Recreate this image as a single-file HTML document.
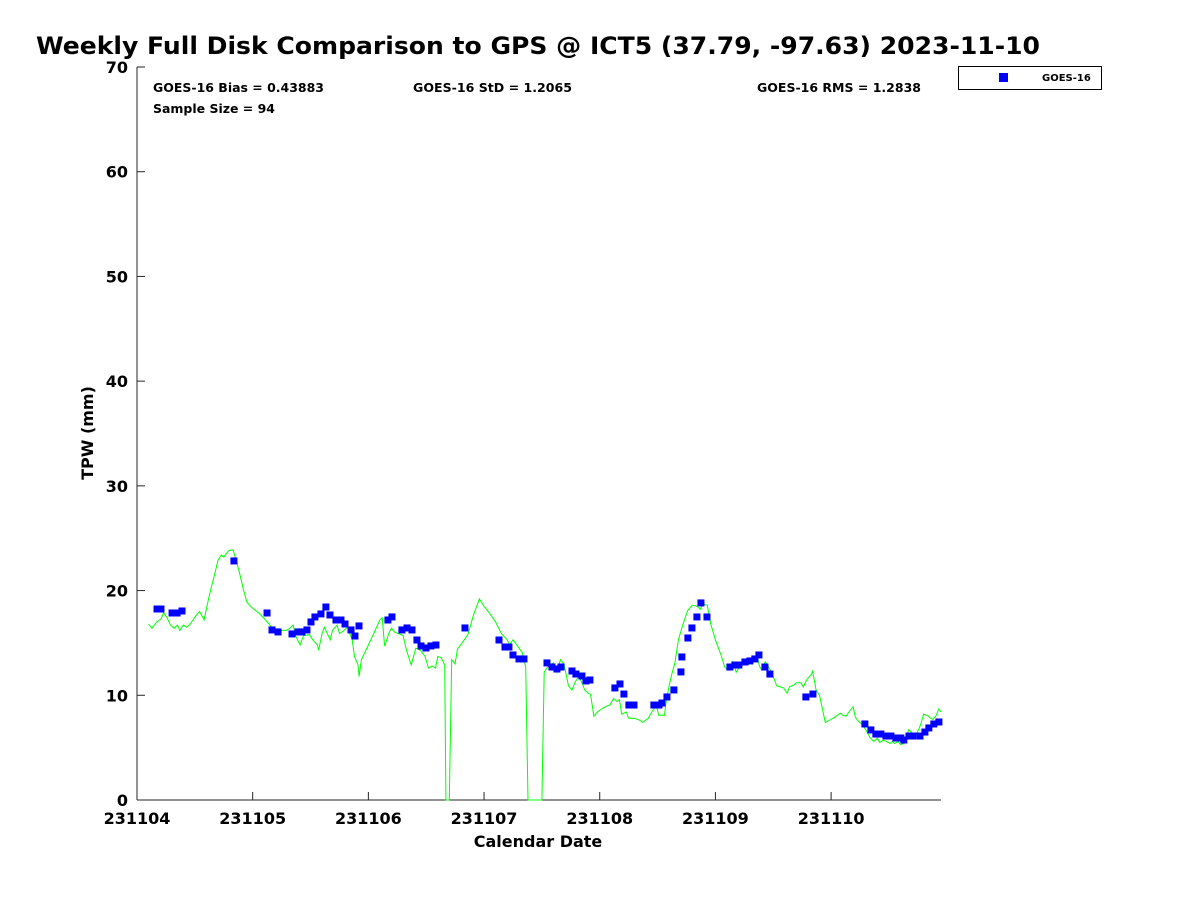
<!DOCTYPE html>
<html><head><meta charset="utf-8"><style>
body{margin:0;background:#fff;}
svg text{font-family:"DejaVu Sans","Liberation Sans",sans-serif;font-weight:bold;fill:#000;}
</style></head><body>
<svg id="chart" width="1200" height="900" xmlns="http://www.w3.org/2000/svg">
<rect width="1200" height="900" fill="#fff"/>
<text x="36" y="54" font-size="24" textLength="1004" lengthAdjust="spacingAndGlyphs">Weekly Full Disk Comparison to GPS @ ICT5 (37.79, -97.63) 2023-11-10</text>
<g id="plot"></g>
<text x="153" y="92" font-size="12" textLength="171" lengthAdjust="spacingAndGlyphs">GOES-16 Bias = 0.43883</text>
<text x="153" y="113" font-size="12" textLength="122" lengthAdjust="spacingAndGlyphs">Sample Size = 94</text>
<text x="413" y="92" font-size="12" textLength="159" lengthAdjust="spacingAndGlyphs">GOES-16 StD = 1.2065</text>
<text x="757" y="92" font-size="12" textLength="164" lengthAdjust="spacingAndGlyphs">GOES-16 RMS = 1.2838</text>
<g>
<rect x="958.5" y="66.5" width="143" height="23" fill="#fff" stroke="#000" stroke-width="1"/>
<rect x="999" y="73" width="9" height="9" fill="#0000ff"/>
<text x="1042" y="81" font-size="10">GOES-16</text>
</g>
<text x="538" y="847" font-size="16" text-anchor="middle">Calendar Date</text>
<text transform="translate(93,433) rotate(-90)" font-size="16" text-anchor="middle">TPW (mm)</text>
</svg>
<script>
const xTickLabels=["231104","231105","231106","231107","231108","231109","231110"];
const yTicks=[0,10,20,30,40,50,60,70];
const goesDays=[0.173,0.207,0.303,0.346,0.389,0.838,1.124,1.167,1.219,1.340,1.392,1.426,1.469,1.504,1.538,1.590,1.633,1.668,1.720,1.763,1.798,1.850,1.884,1.919,2.169,2.204,2.290,2.334,2.377,2.420,2.455,2.498,2.541,2.584,2.835,3.129,3.181,3.215,3.250,3.302,3.345,3.544,3.587,3.630,3.665,3.760,3.794,3.846,3.881,3.915,4.131,4.175,4.209,4.252,4.296,4.468,4.512,4.538,4.581,4.641,4.702,4.710,4.762,4.797,4.840,4.875,4.927,5.125,5.168,5.203,5.255,5.298,5.341,5.376,5.428,5.471,5.782,5.843,6.292,6.344,6.387,6.430,6.474,6.517,6.560,6.603,6.629,6.673,6.707,6.768,6.811,6.845,6.888,6.932];
const goesTPW=[18.24,18.24,17.86,17.86,18.05,22.83,17.86,16.24,16.05,15.86,16.05,16.05,16.24,17.0,17.48,17.77,18.43,17.67,17.19,17.19,16.81,16.24,15.66,16.62,17.19,17.48,16.24,16.43,16.24,15.28,14.71,14.52,14.71,14.80,16.43,15.28,14.61,14.61,13.85,13.47,13.47,13.09,12.70,12.51,12.70,12.32,12.03,11.84,11.37,11.46,10.70,11.08,10.12,9.07,9.07,9.07,9.07,9.26,9.84,10.51,12.23,13.66,15.47,16.43,17.48,18.82,17.48,12.70,12.89,12.89,13.18,13.28,13.47,13.85,12.70,12.03,9.84,10.12,7.26,6.69,6.30,6.30,6.11,6.11,5.92,5.92,5.73,6.11,6.11,6.11,6.49,6.88,7.26,7.45];
const gpsDays=[0.10,0.13,0.17,0.21,0.23,0.26,0.29,0.32,0.35,0.37,0.40,0.43,0.46,0.51,0.54,0.58,0.61,0.64,0.67,0.70,0.73,0.75,0.79,0.83,0.86,0.89,0.92,0.95,0.99,1.06,1.11,1.15,1.19,1.24,1.29,1.32,1.35,1.37,1.41,1.44,1.49,1.52,1.56,1.57,1.60,1.62,1.67,1.69,1.73,1.75,1.78,1.82,1.86,1.88,1.91,1.92,1.94,2.00,2.05,2.10,2.12,2.14,2.18,2.20,2.23,2.26,2.30,2.33,2.37,2.41,2.45,2.49,2.52,2.55,2.58,2.60,2.63,2.66,2.67,2.70,2.72,2.75,2.77,2.81,2.86,2.91,2.96,3.00,3.05,3.10,3.15,3.20,3.22,3.25,3.29,3.33,3.36,3.38,3.50,3.52,3.55,3.60,3.63,3.66,3.69,3.73,3.76,3.79,3.82,3.85,3.87,3.90,3.92,3.95,3.98,4.03,4.09,4.12,4.15,4.17,4.19,4.23,4.25,4.30,4.35,4.37,4.42,4.45,4.49,4.51,4.56,4.57,4.60,4.62,4.65,4.68,4.72,4.76,4.80,4.84,4.87,4.89,4.93,4.96,5.00,5.05,5.08,5.11,5.13,5.15,5.18,5.21,5.24,5.26,5.28,5.33,5.34,5.36,5.38,5.40,5.43,5.45,5.48,5.51,5.53,5.56,5.59,5.62,5.64,5.68,5.70,5.74,5.76,5.79,5.83,5.84,5.87,5.90,5.95,6.03,6.08,6.10,6.13,6.16,6.19,6.21,6.23,6.27,6.30,6.34,6.37,6.40,6.42,6.45,6.48,6.51,6.53,6.55,6.58,6.60,6.63,6.65,6.67,6.70,6.72,6.76,6.78,6.80,6.84,6.86,6.88,6.91,6.93,6.95];
const gpsTPW=[16.8,16.4,17.0,17.3,17.9,17.4,16.7,16.4,16.7,16.2,16.7,16.5,16.8,17.6,18.0,17.2,18.8,20.2,21.5,22.9,23.4,23.2,23.8,23.9,22.8,21.5,20.1,18.9,18.4,17.8,17.2,16.7,16.2,16.2,16.2,16.4,16.7,15.7,14.8,15.7,15.8,15.3,14.8,14.3,15.9,16.5,15.3,16.2,16.7,15.9,16.1,16.5,15.3,13.7,12.9,11.8,13.4,14.8,16.0,17.2,17.4,14.7,16.0,16.4,16.0,15.9,15.7,14.3,12.9,14.5,14.3,13.7,12.6,12.8,12.6,13.7,13.6,12.9,0,0,13.4,13.0,14.4,15.0,15.8,17.7,19.2,18.5,17.8,17.0,15.9,15.3,14.8,15.3,14.7,14.1,12.7,0,0,12.2,12.7,13.1,12.2,13.4,13.0,10.9,10.5,11.3,11.8,11.1,10.5,10.2,10.1,8.0,8.4,8.8,9.1,9.7,9.4,9.6,8.2,8.4,7.8,7.8,7.6,7.4,7.8,8.4,9.0,8.1,8.1,9.1,10.9,11.9,13.1,15.3,16.8,18.1,18.6,18.5,18.2,18.7,18.6,16.8,15.3,13.8,12.7,12.4,12.5,13.2,12.2,12.7,12.9,13.2,12.9,13.2,13.4,13.8,12.8,12.4,13.2,12.9,12.3,11.5,10.9,10.8,10.7,10.2,10.8,11.0,11.2,11.2,10.8,11.5,12.0,12.3,10.5,10.0,7.4,7.9,8.3,8.1,8.0,8.5,8.9,7.9,7.6,7.2,6.7,5.9,5.6,5.9,5.5,5.7,5.6,5.4,5.6,5.4,5.6,5.3,5.4,6.0,6.7,6.4,6.0,6.8,7.4,8.2,8.0,7.8,7.7,8.1,8.7,8.4];
const X0=137,X1=941,Y0=800,Y1=67,DMAX=6.95,VMAX=70;
const xs=d=>X0+d*(X1-X0)/DMAX;
const ys=v=>Y0-v*(Y0-Y1)/VMAX;
const NS="http://www.w3.org/2000/svg";
const plot=document.getElementById('plot');
function mk(tag,attrs){const e=document.createElementNS(NS,tag);for(const k in attrs)e.setAttribute(k,attrs[k]);plot.appendChild(e);return e;}
let ax=mk('line',{x1:X0,y1:Y0,x2:X1,y2:Y0,stroke:'#262626','stroke-width':1});


let ay=mk('line',{x1:X0,y1:Y0,x2:X0,y2:Y1,stroke:'#262626','stroke-width':1});


xTickLabels.forEach((t,i)=>{
  const x=xs(i);
  const l=mk('line',{x1:x,y1:Y0,x2:x,y2:Y0-8,stroke:'#262626'});
  
  
  const tx=mk('text',{x:x,y:Y0+24,'font-size':16,'text-anchor':'middle'});
  tx.textContent=t;
  
  
});
yTicks.forEach(v=>{
  const y=ys(v);
  const l=mk('line',{x1:X0,y1:y,x2:X0+8,y2:y,stroke:'#262626'});
  
  
  const tx=mk('text',{x:X0-9,y:y+6,'font-size':16,'text-anchor':'end'});
  tx.textContent=v;
  
  
});
const pts=gpsDays.map((d,i)=>xs(d).toFixed(1)+','+ys(gpsTPW[i]).toFixed(1)).join(' ');
const line=mk('polyline',{points:pts,fill:'none',stroke:'#00ff00','stroke-width':1});


goesDays.forEach((d,i)=>{
  const r=mk('rect',{x:xs(d)-3.5,y:ys(goesTPW[i])-3.5,width:7,height:7,fill:'#0000ff'});
  
  
});
</script>
</body></html>
